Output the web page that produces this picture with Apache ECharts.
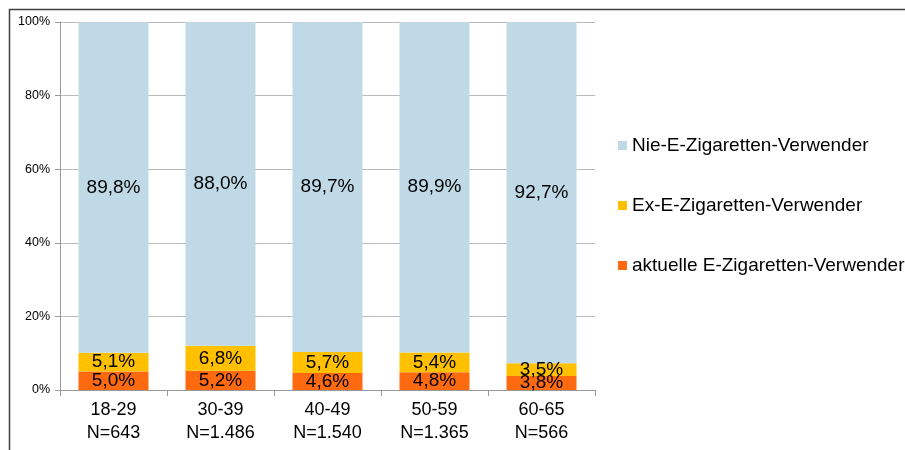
<!DOCTYPE html>
<html>
<head>
<meta charset="utf-8">
<script src="https://cdn.jsdelivr.net/npm/echarts@6/dist/echarts.min.js"></script>
<style>
  html, body { margin: 0; padding: 0; background: #fff; }
  #chart { width: 905px; height: 450px; }
</style>
</head>
<body>
<div id="chart"></div>
<script>
// Altersgruppen und Stichprobengrößen
const categories = ["18-29\nN=643", "30-39\nN=1.486", "40-49\nN=1.540", "50-59\nN=1.365", "60-65\nN=566"];
const seriesNames = ["aktuelle E-Zigaretten-Verwender", "Ex-E-Zigaretten-Verwender", "Nie-E-Zigaretten-Verwender"];
const aktuell = [5.0, 5.2, 4.6, 4.8, 3.8];
const ex = [5.1, 6.8, 5.7, 5.4, 3.5];
const nie = [89.8, 88.0, 89.7, 89.9, 92.7];
const yTicks = [0, 20, 40, 60, 80, 100];

const colors = ["#ff6a10", "#ffc000", "#c0d9e6"];
const font = "'Liberation Sans', Arial, sans-serif";

const chart = echarts.init(document.getElementById("chart"));

const label = {
  show: true,
  position: "inside",
  color: "#000",
  fontSize: 19,
  fontFamily: font,
  formatter: (p) => p.value.toFixed(1).replace(".", ",") + "%",
};

const mk = (name, data, color) => ({
  name,
  type: "bar",
  stack: "total",
  data,
  barWidth: 70,
  itemStyle: { color },
  label,
  emphasis: { disabled: true },
});

chart.setOption({
  animation: false,
  textStyle: { fontFamily: font },
  graphic: [
    {
      type: "rect",
      shape: { x: 9.5, y: 9.5, width: 1000, height: 1000 },
      style: { fill: "none", stroke: "#404040", lineWidth: 1.5 },
      z: -1,
    },
  ],
  grid: { left: 60, top: 22, width: 535, height: 368 },
  legend: {
    orient: "vertical",
    left: 613,
    top: 131,
    itemGap: 41,
    itemWidth: 9,
    itemHeight: 9,
    icon: "rect",
    data: [seriesNames[2], seriesNames[1], seriesNames[0]],
    textStyle: { fontSize: 19, color: "#000", fontFamily: font },
  },
  xAxis: {
    type: "category",
    data: categories,
    axisLine: { lineStyle: { color: "#999" } },
    axisTick: { show: true, length: 6, lineStyle: { color: "#999" } },
    axisLabel: { color: "#000", fontSize: 18, lineHeight: 23, margin: 9, fontFamily: font },
  },
  yAxis: {
    type: "value",
    min: yTicks[0],
    max: yTicks[yTicks.length - 1],
    interval: 20,
    axisLine: { show: true, lineStyle: { color: "#999" } },
    axisTick: { show: true, length: 5, lineStyle: { color: "#999" } },
    splitLine: { lineStyle: { color: "#bbb" } },
    axisLabel: {
      color: "#000",
      fontSize: 12.5,
      margin: 10,
      fontFamily: font,
      formatter: (v) => v + "%",
    },
  },
  series: [
    mk(seriesNames[0], aktuell, colors[0]),
    mk(seriesNames[1], ex, colors[1]),
    mk(seriesNames[2], nie, colors[2]),
  ],
});
</script>
</body>
</html>
